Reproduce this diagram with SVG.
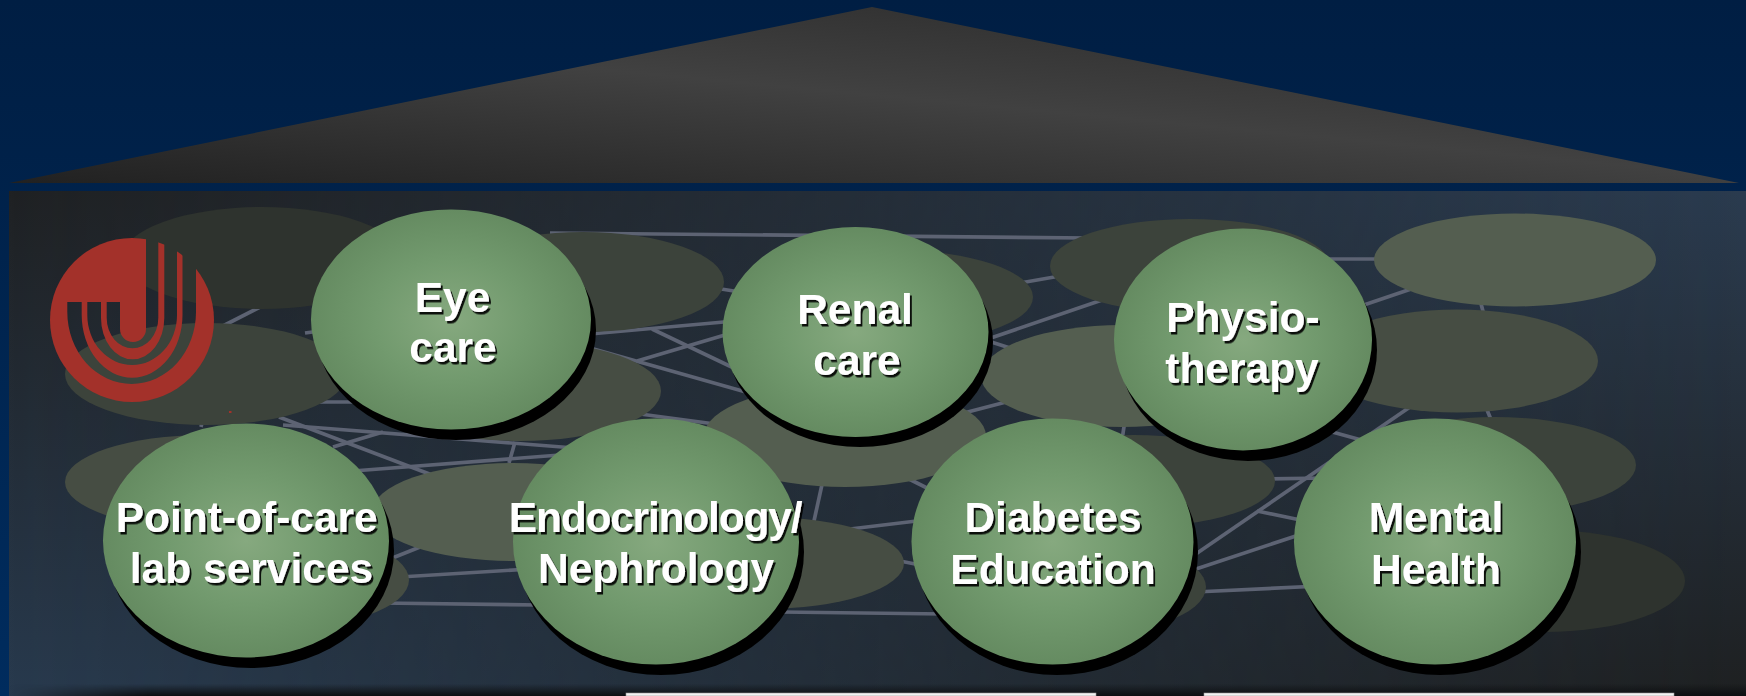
<svg xmlns="http://www.w3.org/2000/svg" width="1746" height="696" viewBox="0 0 1746 696">
<style>
.blob{stroke:none}
.b1{fill:#2e332e}.b2{fill:#3c433b}.b3{fill:#464d43}.b4{fill:#545e50}
.ln{stroke:#5d6373;stroke-width:3.7;fill:none}
.sh{fill:#000}
.ball{fill:url(#ball)}
.t{font-family:"Liberation Sans",Arial,sans-serif;font-weight:700;font-size:42.5px;fill:#fff;text-anchor:middle;filter:url(#ts)}
.tight{letter-spacing:-1.2px}
</style>
<defs>
<linearGradient id="page" x1="0" y1="0" x2="0" y2="1"><stop offset="0" stop-color="#001e43"/><stop offset="1" stop-color="#002c5e"/></linearGradient>
<linearGradient id="roof" gradientUnits="userSpaceOnUse" x1="872" y1="7" x2="848" y2="263"><stop offset="0" stop-color="#333"/><stop offset=".34" stop-color="#414141"/><stop offset="1" stop-color="#212121"/></linearGradient>
<linearGradient id="panA" x1="0" y1="0" x2="0" y2="1"><stop offset="0" stop-color="#1f2123"/><stop offset="1" stop-color="#283a4e"/></linearGradient>
<linearGradient id="panB" x1="0" y1="0" x2="0" y2="1"><stop offset="0" stop-color="#2a3b4f"/><stop offset="1" stop-color="#1e2021"/></linearGradient>
<linearGradient id="fade" x1="0" y1="0" x2="1" y2="0"><stop offset="0" stop-color="#000"/><stop offset="1" stop-color="#fff"/></linearGradient>
<mask id="panMask" maskUnits="userSpaceOnUse" x="9" y="191" width="1737" height="505"><rect x="9" y="191" width="1737" height="505" fill="url(#fade)"/></mask>
<linearGradient id="bot" x1="0" y1="0" x2="0" y2="1"><stop offset="0" stop-color="#0d0f12" stop-opacity="0"/><stop offset="1" stop-color="#0d0f12"/></linearGradient>
<linearGradient id="botFade" x1="0" y1="0" x2="1" y2="0"><stop offset="0" stop-color="#000"/><stop offset=".08" stop-color="#fff"/></linearGradient>
<mask id="botMask" maskUnits="userSpaceOnUse" x="9" y="684" width="1737" height="12"><rect x="9" y="684" width="1737" height="12" fill="url(#botFade)"/></mask>
<radialGradient id="ball" cx=".5" cy=".5" r=".5"><stop offset="0" stop-color="#86a97f"/><stop offset=".55" stop-color="#729a6e"/><stop offset="1" stop-color="#658b61"/></radialGradient>
<filter id="ts" x="-10%" y="-20%" width="120%" height="150%"><feDropShadow dx="2" dy="2.5" stdDeviation=".7" flood-color="#000" flood-opacity=".9"/></filter>
<mask id="logoMask" maskUnits="userSpaceOnUse" x="40" y="225" width="190" height="190">
<rect x="40" y="225" width="190" height="190" fill="#fff"/>
<path fill="#000" d="M106.7 302H120V329A13 13 0 0 0 146 329V225H158.3V318A25.8 30.3 0 0 1 106.7 318Z"/>
<path fill="#000" d="M87.3 302H101V318A31.6 41.3 0 0 0 164.3 318V225H177V315A44.85 50 0 0 1 87.3 315Z"/>
<path fill="#000" d="M67.3 302H81.7V315A50.4 62.7 0 0 0 182.5 315V225H196V312A64.35 72 0 0 1 67.3 312Z"/>
</mask>
</defs>

<rect width="1746" height="696" fill="url(#page)"/>
<polygon id="roofShape" points="9,183 872,7 1739,183" fill="url(#roof)"/>
<g id="panel">
<rect x="9" y="191" width="1737" height="505" fill="url(#panA)"/>
<rect x="9" y="191" width="1737" height="505" fill="url(#panB)" mask="url(#panMask)"/>
<rect x="9" y="684" width="1737" height="12" fill="url(#bot)" mask="url(#botMask)"/>
</g>

<g id="connectors" class="ln">
<path d="M215 330L262 306"/>
<path d="M279 417L440 478"/>
<path d="M283 425L600 450"/>
<path d="M333 447L383 432"/>
<path d="M340 472L560 455"/>
<path d="M509 463L515 442"/>
<path d="M390 559L420 547"/>
<path d="M400 577L530 569"/>
<path d="M380 603L540 605"/>
<path d="M201 427L203 418"/>
<path d="M305 333L320 331"/>
<path d="M320 402L360 402"/>
<path d="M550 233L1090 238"/>
<path d="M715 288L740 292"/>
<path d="M590 334L735 321"/>
<path d="M652 329L740 371"/>
<path d="M637 361L735 332"/>
<path d="M590 348L760 396"/>
<path d="M1020 283L1060 276"/>
<path d="M985 340L1105 299"/>
<path d="M985 340L1010 348"/>
<path d="M960 414L1010 401"/>
<path d="M640 414L715 424"/>
<path d="M823 480L812 530"/>
<path d="M905 477L935 492"/>
<path d="M850 529L925 520"/>
<path d="M895 560L925 566"/>
<path d="M780 612L945 614"/>
<path d="M1125 420L1122 440"/>
<path d="M1320 259L1385 259"/>
<path d="M1355 308L1420 286"/>
<path d="M1480 300L1484 315"/>
<path d="M1485 405L1492 422"/>
<path d="M1325 430L1365 441"/>
<path d="M1190 558L1410 407"/>
<path d="M1265 479L1325 478"/>
<path d="M1257 511L1310 522"/>
<path d="M1190 571L1305 533"/>
<path d="M1195 592L1320 586"/>
</g>

<g id="backdrop">
<ellipse class="blob b1" cx="262" cy="258" rx="140" ry="51"/>
<ellipse class="blob b2" cx="206" cy="374" rx="141" ry="51"/>
<ellipse class="blob b2" cx="583" cy="282" rx="141" ry="50"/>
<ellipse class="blob b3" cx="520" cy="391" rx="141" ry="50"/>
<ellipse class="blob b2" cx="892" cy="297" rx="141" ry="47"/>
<ellipse class="blob b2" cx="1190" cy="266" rx="140" ry="47"/>
<ellipse class="blob b4" cx="1515" cy="260" rx="141" ry="46.5"/>
<ellipse class="blob b3" cx="1457" cy="361" rx="141" ry="51.5"/>
<ellipse class="blob b4" cx="1122" cy="376" rx="141" ry="51"/>
<ellipse class="blob b4" cx="845" cy="436" rx="141" ry="51"/>
<ellipse class="blob b3" cx="205" cy="482" rx="140" ry="47"/>
<ellipse class="blob b4" cx="513" cy="512" rx="141" ry="49"/>
<ellipse class="blob b3" cx="268" cy="580" rx="141" ry="50"/>
<ellipse class="blob b3" cx="763" cy="563" rx="141" ry="46"/>
<ellipse class="blob b2" cx="1134" cy="481" rx="141" ry="46"/>
<ellipse class="blob b2" cx="1065" cy="587" rx="141" ry="50"/>
<ellipse class="blob b2" cx="1495" cy="465" rx="141" ry="48"/>
<ellipse class="blob b1" cx="1544" cy="581" rx="141" ry="51"/>
</g>

<g id="logo">
<circle cx="132" cy="320" r="82" fill="#a3312a" mask="url(#logoMask)"/>
<rect x="229" y="411" width="2.5" height="2" fill="#a3312a"/>
</g>

<g id="node-eye">
<ellipse class="sh" cx="456" cy="330" rx="140" ry="110"/>
<ellipse class="ball" cx="451" cy="319.5" rx="140" ry="110"/>
<text class="t" x="452.5" y="312">Eye</text><text class="t" x="453" y="361.5">care</text>
</g>
<g id="node-renal">
<ellipse class="sh" cx="860" cy="342" rx="133" ry="105"/>
<ellipse class="ball" cx="855.5" cy="332" rx="133" ry="105"/>
<text class="t" x="855" y="324">Renal</text><text class="t" x="857" y="375">care</text>
</g>
<g id="node-physio">
<ellipse class="sh" cx="1248" cy="350" rx="129" ry="111"/>
<ellipse class="ball" cx="1243" cy="339.5" rx="129" ry="111"/>
<text class="t" x="1243" y="332">Physio-</text><text class="t" x="1242" y="382.5">therapy</text>
</g>
<g id="node-poc">
<ellipse class="sh" cx="251" cy="551" rx="143" ry="117"/>
<ellipse class="ball" cx="246" cy="540.5" rx="143" ry="117"/>
<text class="t" x="246.7" y="532">Point-of-care</text><text class="t" x="251.5" y="583">lab services</text>
</g>
<g id="node-endo">
<ellipse class="sh" cx="661" cy="552" rx="143" ry="123"/>
<ellipse class="ball" cx="656" cy="541.5" rx="143" ry="123"/>
<text class="t tight" x="655" y="532">Endocrinology/</text><text class="t" x="656" y="583">Nephrology</text>
</g>
<g id="node-diabetes">
<ellipse class="sh" cx="1057" cy="552" rx="141" ry="123"/>
<ellipse class="ball" cx="1052.5" cy="541.5" rx="141" ry="123"/>
<text class="t" x="1053" y="532">Diabetes</text><text class="t" x="1053" y="583.5">Education</text>
</g>
<g id="node-mental">
<ellipse class="sh" cx="1440" cy="552" rx="141" ry="123"/>
<ellipse class="ball" cx="1435" cy="541.5" rx="141" ry="123"/>
<text class="t" x="1436" y="532">Mental</text><text class="t" x="1436" y="583.5">Health</text>
</g>

<g id="footer">
<rect x="626" y="693" width="470" height="3" fill="#f2f2f2" stroke="#9a9a9a" stroke-width=".6"/>
<rect x="1204" y="693" width="470" height="3" fill="#f2f2f2" stroke="#9a9a9a" stroke-width=".6"/>
</g>
</svg>
